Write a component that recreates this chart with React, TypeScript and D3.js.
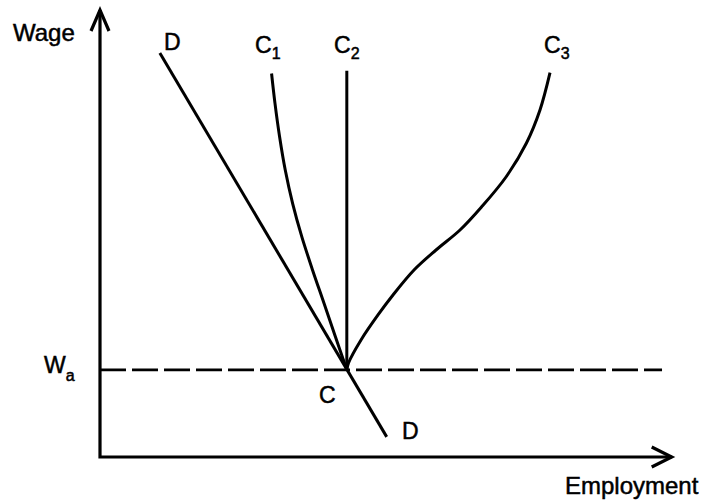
import React from 'react';
import * as d3 from 'd3';

// schematic units: employment 0..100, wage 0..100
const wageA = 19.5;

const demandLine = [[10.5, 90.4], [50.3, 4.5]];

const c1Curve = [
  [30.1, 85.8], [30.7, 79.1], [31.5, 71.7], [32.5, 64.2], [33.8, 56.7],
  [35.4, 49.3], [37.3, 41.8], [39.3, 34.4], [41.3, 26.9], [43.3, 19.5],
];

const c2Curve = [[43.3, 86.4], [43.3, 19.5]];

const c3Curve = [
  [78.95, 85.97], [77.19, 77.63], [74.82, 70.25], [71.23, 62.64], [66.93, 55.93],
  [63.16, 50.78], [58.95, 46.31], [55.09, 41.83], [51.4, 36.24], [48.77, 31.77],
  [45.79, 26.17], [43.6, 21.03], [43.3, 19.5],
];

const dashEnd = 98.6;
const xAxisEnd = 100.3;
const yAxisEnd = 100;

const W = 704, H = 502;

export default function App() {
  const x = d3.scaleLinear().domain([0, 100]).range([100, 670]);
  const y = d3.scaleLinear().domain([0, 100]).range([457, 10]);

  const line = d3.line<number[]>()
    .x(d => x(d[0]))
    .y(d => y(d[1]));
  const smooth = d3.line<number[]>()
    .x(d => x(d[0]))
    .y(d => y(d[1]))
    .curve(d3.curveCatmullRom.alpha(0.5));

  const font = {
    fontFamily: '"Liberation Sans", Arial, Helvetica, sans-serif',
    fill: '#000', stroke: '#000', strokeWidth: 0.5,
  };

  // open arrow heads
  const xTip = [x(xAxisEnd), y(0)];
  const yTip = [x(0), y(yAxisEnd)];

  return (
    <svg width={W} height={H} style={{ position: 'absolute', left: 0, top: 0, background: '#fff' }}>
      {/* axes */}
      <path d={line([[0, yAxisEnd], [0, 0], [xAxisEnd, 0]])!} fill="none" stroke="#000" strokeWidth={3.2} />
      <path d={`M${yTip[0] - 9},${yTip[1] + 21} L${yTip[0]},${yTip[1]} L${yTip[0] + 9},${yTip[1] + 21}`}
        fill="none" stroke="#000" strokeWidth={3.2} />
      <path d={`M${xTip[0] - 20},${xTip[1] - 10} L${xTip[0]},${xTip[1]} L${xTip[0] - 20},${xTip[1] + 10}`}
        fill="none" stroke="#000" strokeWidth={3.2} />

      {/* wage floor */}
      <path d={line([[0, wageA], [dashEnd, wageA]])!} fill="none" stroke="#000" strokeWidth={2.7}
        strokeDasharray="26 6" />

      {/* curves */}
      <path d={line(demandLine)!} fill="none" stroke="#000" strokeWidth={3} />
      <path d={smooth(c1Curve)!} fill="none" stroke="#000" strokeWidth={3} />
      <path d={line(c2Curve)!} fill="none" stroke="#000" strokeWidth={3} />
      <path d={smooth(c3Curve)!} fill="none" stroke="#000" strokeWidth={3} />

      {/* labels */}
      <text x={13} y={41} fontSize={24} style={font}>Wage</text>
      <text x={164} y={50} fontSize={23} style={font}>D</text>
      <text x={255} y={53} fontSize={23} style={font}>C<tspan fontSize={16} dy={6}>1</tspan></text>
      <text x={334} y={53} fontSize={23} style={font}>C<tspan fontSize={16} dy={6}>2</tspan></text>
      <text x={544} y={53} fontSize={23} style={font}>C<tspan fontSize={16} dy={6}>3</tspan></text>
      <text x={44} y={373} fontSize={23} style={font}>W<tspan fontSize={16} dy={8}>a</tspan></text>
      <text x={319} y={403} fontSize={23} style={font}>C</text>
      <text x={402} y={439} fontSize={23} style={font}>D</text>
      <text x={565} y={494} fontSize={24} style={font}>Employment</text>
    </svg>
  );
}
